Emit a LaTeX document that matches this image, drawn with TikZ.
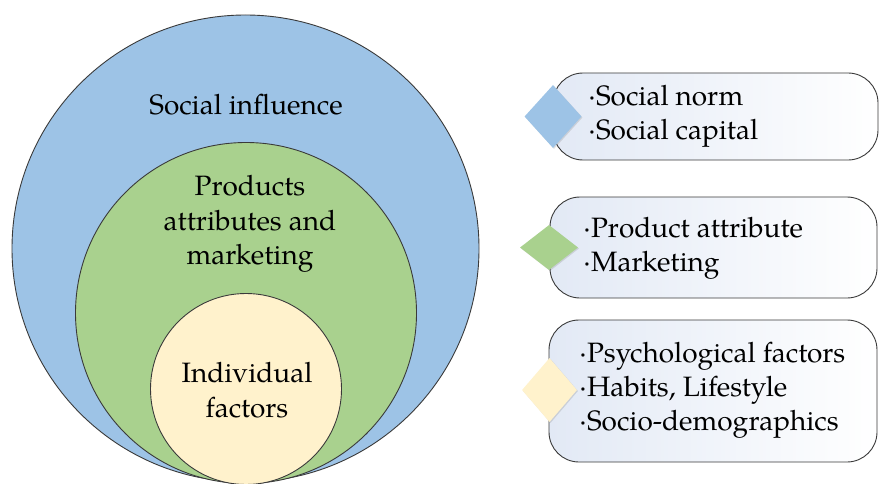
\documentclass[tikz,border=0pt]{standalone}
\usepackage{fontspec}
\setmainfont{TeX Gyre Pagella}
\usetikzlibrary{shapes.geometric,shadows}
\definecolor{cblue}{HTML}{9DC3E6}
\definecolor{cgreen}{HTML}{A9D18E}
\definecolor{ccream}{HTML}{FFF2CC}
\definecolor{cline}{HTML}{3A3A3A}
\definecolor{cshade}{HTML}{E2E9F5}
\tikzset{
  ring/.style={circle, draw=cline, line width=0.9pt, inner sep=0pt},
  lbl/.style={align=center, font=\fontsize{28}{34.5}\selectfont, inner sep=0pt},
  listtxt/.style={align=left, anchor=west, font=\fontsize{28}{34}\selectfont, inner sep=0pt},
  panel/.style={draw=cline, line width=0.9pt, rounded corners=30pt, left color=cshade, right color=white, inner sep=0pt},
  gem/.style={diamond, inner sep=0pt, drop shadow={opacity=0.25, shadow xshift=1pt, shadow yshift=-1pt}}
}
\begin{document}
\begin{tikzpicture}[x=1pt, y=-1pt]
\useasboundingbox (0,0) rectangle (880,484);
% circles
\node[ring, fill=cblue, minimum size=467pt] (outer) at (245.5,248.5) {};
\node[ring, fill=cgreen, minimum size=341pt] (mid) at (246,313) {};
\node[ring, fill=ccream, minimum size=191pt] (inner) at (246,389) {};
\node[lbl] (tout) at (246,105) {Social influence};
\node[lbl] (tmid) at (250,224) {Products\\attributes and\\marketing};
\node[lbl] (tin) at (247,390) {Individual\\factors};
% panels
\node[panel, minimum width=325pt, minimum height=87pt] (p1) at (715.5,116.5) {};
\node[panel, minimum width=327pt, minimum height=101pt] (p2) at (713.5,247.5) {};
\node[panel, minimum width=328pt, minimum height=142pt] (p3) at (713,391) {};
% diamonds
\node[gem, fill=cblue, minimum width=57pt, minimum height=63pt] (d1) at (553,116.5) {};
\node[gem, fill=cgreen, minimum width=58pt, minimum height=45pt] (d2) at (549,247.5) {};
\node[gem, fill=ccream, minimum width=55pt, minimum height=64pt] (d3) at (549.5,390) {};
% texts
\node[listtxt] (l1) at (588,116.5) {·Social norm\\·Social capital};
\node[listtxt] (l2) at (583,248.5) {·Product attribute\\·Marketing};
\node[listtxt] (l3) at (579,390) {·Psychological factors\\·Habits, Lifestyle\\·Socio-demographics};
\end{tikzpicture}
\end{document}
